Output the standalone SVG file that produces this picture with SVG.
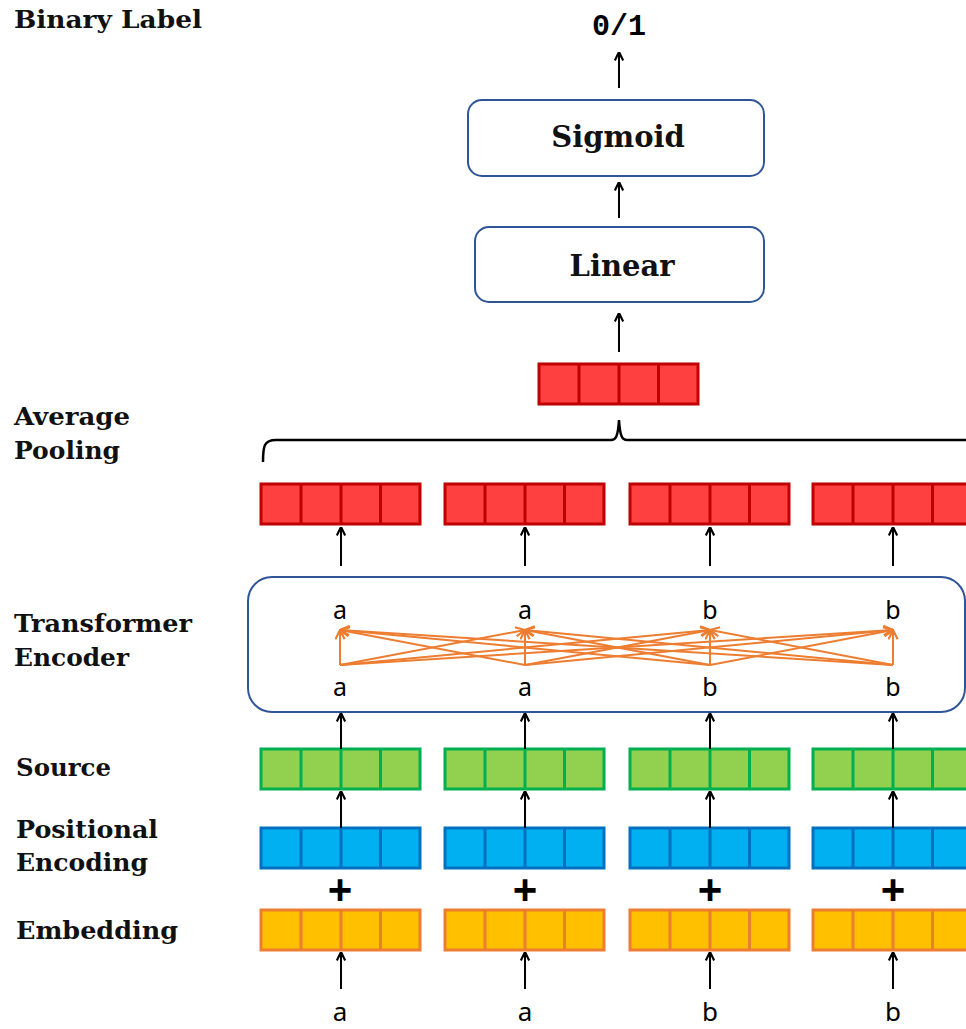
<svg xmlns="http://www.w3.org/2000/svg" xmlns:xlink="http://www.w3.org/1999/xlink" width="966" height="1029" viewBox="0 0 966 1029">
  <style>
    .lbl { font-family: "DejaVu Serif", "Liberation Serif", serif; font-weight: bold; font-size: 24px; fill: #111; }
    .box { fill: #fff; stroke: #2F5597; stroke-width: 2; }
    .boxtxt { font-family: "DejaVu Serif", "Liberation Serif", serif; font-weight: bold; font-size: 29px; fill: #111; text-anchor: middle; }
    .tok { font-family: "Noto Sans", "Open Sans", sans-serif; font-size: 25px; fill: #000; text-anchor: middle; }
    .in { font-family: "Noto Sans", "Open Sans", sans-serif; font-size: 26px; fill: #000; text-anchor: middle; }
    .plus { font-family: "Liberation Sans", sans-serif; font-weight: bold; font-size: 42px; fill: #000; text-anchor: middle; }
    .arr { stroke: #000; stroke-width: 2; fill: none; marker-end: url(#head); }
    .att { stroke: #ED7D31; stroke-width: 2; fill: none; marker-end: url(#ahead); }
    .red { fill: #FF4040; stroke: #C00000; }
    .green { fill: #92D050; stroke: #00B050; }
    .blue { fill: #00B0F0; stroke: #0070C0; }
    .orange { fill: #FFC000; stroke: #ED7D31; }
  </style>
  <defs>
    <marker id="head" viewBox="0 0 10 10" refX="9.5" refY="5" markerWidth="10" markerHeight="10" markerUnits="userSpaceOnUse" orient="auto">
      <path d="M1,0.8 L9.5,5 L1,9.2" fill="none" stroke="#000" stroke-width="2.2"/>
    </marker>
    <marker id="ahead" viewBox="0 0 10 10" refX="9.5" refY="5" markerWidth="11" markerHeight="11" markerUnits="userSpaceOnUse" orient="auto">
      <path d="M1,0.8 L9.5,5 L1,9.2" fill="none" stroke="#ED7D31" stroke-width="2"/>
    </marker>
    <!-- four-cell vector; fill and stroke come from the <use> -->
    <symbol id="bar" overflow="visible">
      <rect x="0" y="0" width="159" height="40" stroke-width="3"/>
      <line x1="40" y1="0" x2="40" y2="40" stroke-width="3"/>
      <line x1="80" y1="0" x2="80" y2="40" stroke-width="3"/>
      <line x1="119.5" y1="0" x2="119.5" y2="40" stroke-width="3"/>
    </symbol>
  </defs>

  <rect width="966" height="1029" fill="#fff"/>

  <!-- row labels -->
  <g id="labels">
    <text class="lbl" x="14" y="28" textLength="188" lengthAdjust="spacingAndGlyphs">Binary Label</text>
    <text class="lbl" x="14" y="425" textLength="116" lengthAdjust="spacingAndGlyphs">Average</text>
    <text class="lbl" x="14" y="459" textLength="106" lengthAdjust="spacingAndGlyphs">Pooling</text>
    <text class="lbl" x="14" y="632" textLength="178" lengthAdjust="spacingAndGlyphs">Transformer</text>
    <text class="lbl" x="14" y="666" textLength="115" lengthAdjust="spacingAndGlyphs">Encoder</text>
    <text class="lbl" x="16" y="776" textLength="95" lengthAdjust="spacingAndGlyphs">Source</text>
    <text class="lbl" x="16" y="838" textLength="142" lengthAdjust="spacingAndGlyphs">Positional</text>
    <text class="lbl" x="16" y="871" textLength="132" lengthAdjust="spacingAndGlyphs">Encoding</text>
    <text class="lbl" x="16" y="939" textLength="162" lengthAdjust="spacingAndGlyphs">Embedding</text>
  </g>

  <g id="output">
    <text x="619" y="35" font-family="Liberation Mono, DejaVu Sans Mono, monospace" font-weight="bold" font-size="30" text-anchor="middle">0/1</text>
  </g>

  <g id="sigmoid">
    <rect class="box" x="468" y="100" width="296" height="76" rx="14"/>
    <text class="boxtxt" x="618" y="147">Sigmoid</text>
  </g>

  <g id="linear">
    <rect class="box" x="475" y="227" width="289" height="75" rx="14"/>
    <text class="boxtxt" x="622" y="276">Linear</text>
  </g>

  <g id="pooled">
    <use xlink:href="#bar" class="red" x="539" y="364"/>
  </g>

  <!-- averaging brace -->
  <g id="brace">
    <path d="M263,462 C263,446 264,440 276,440 L611,440 C616,440 618,436 619,420 C620,436 622,440 627,440 L970,440" fill="none" stroke="#000" stroke-width="2.5"/>
  </g>

  <g id="encoded">
    <use xlink:href="#bar" class="red" x="261" y="484"/>
    <use xlink:href="#bar" class="red" x="445" y="484"/>
    <use xlink:href="#bar" class="red" x="630" y="484"/>
    <use xlink:href="#bar" class="red" x="813" y="484"/>
  </g>

  <g id="encoder">
    <rect class="box" x="248" y="577" width="717" height="135" rx="24"/>
    <text class="tok" x="340" y="619">a</text>
    <text class="tok" x="525" y="619">a</text>
    <text class="tok" x="710" y="619">b</text>
    <text class="tok" x="893" y="619">b</text>
    <text class="tok" x="340" y="696">a</text>
    <text class="tok" x="525" y="696">a</text>
    <text class="tok" x="710" y="696">b</text>
    <text class="tok" x="893" y="696">b</text>
  </g>

  <g id="source">
    <use xlink:href="#bar" class="green" x="261" y="749"/>
    <use xlink:href="#bar" class="green" x="445" y="749"/>
    <use xlink:href="#bar" class="green" x="630" y="749"/>
    <use xlink:href="#bar" class="green" x="813" y="749"/>
  </g>

  <g id="positional">
    <use xlink:href="#bar" class="blue" x="261" y="828"/>
    <use xlink:href="#bar" class="blue" x="445" y="828"/>
    <use xlink:href="#bar" class="blue" x="630" y="828"/>
    <use xlink:href="#bar" class="blue" x="813" y="828"/>
  </g>

  <g id="plus">
    <text class="plus" x="340" y="904">+</text>
    <text class="plus" x="525" y="904">+</text>
    <text class="plus" x="710" y="904">+</text>
    <text class="plus" x="893" y="904">+</text>
  </g>

  <g id="embedding">
    <use xlink:href="#bar" class="orange" x="261" y="910"/>
    <use xlink:href="#bar" class="orange" x="445" y="910"/>
    <use xlink:href="#bar" class="orange" x="630" y="910"/>
    <use xlink:href="#bar" class="orange" x="813" y="910"/>
  </g>

  <g id="inputs">
    <text class="in" x="340" y="1021">a</text>
    <text class="in" x="525" y="1021">a</text>
    <text class="in" x="710" y="1021">b</text>
    <text class="in" x="893" y="1021">b</text>
  </g>

  <g id="connectors">
    <!-- head stack -->
    <line class="arr" x1="619" y1="88" x2="619" y2="52"/>
    <line class="arr" x1="619" y1="218" x2="619" y2="182"/>
    <line class="arr" x1="619" y1="352" x2="619" y2="313"/>
    <!-- encoder outputs -->
    <line class="arr" x1="341" y1="566" x2="341" y2="527"/>
    <line class="arr" x1="525" y1="566" x2="525" y2="527"/>
    <line class="arr" x1="710" y1="566" x2="710" y2="527"/>
    <line class="arr" x1="893" y1="566" x2="893" y2="527"/>
    <!-- source into encoder -->
    <line class="arr" x1="341" y1="749" x2="341" y2="713"/>
    <line class="arr" x1="525" y1="749" x2="525" y2="713"/>
    <line class="arr" x1="710" y1="749" x2="710" y2="713"/>
    <line class="arr" x1="893" y1="749" x2="893" y2="713"/>
    <!-- positional + embedding into source -->
    <line class="arr" x1="341" y1="828" x2="341" y2="791"/>
    <line class="arr" x1="525" y1="828" x2="525" y2="791"/>
    <line class="arr" x1="710" y1="828" x2="710" y2="791"/>
    <line class="arr" x1="893" y1="828" x2="893" y2="791"/>
    <!-- tokens into embedding -->
    <line class="arr" x1="341" y1="989" x2="341" y2="952"/>
    <line class="arr" x1="525" y1="989" x2="525" y2="952"/>
    <line class="arr" x1="710" y1="989" x2="710" y2="952"/>
    <line class="arr" x1="893" y1="989" x2="893" y2="952"/>

    <!-- self-attention: every lower token feeds every upper token -->
    <g id="attention">
      <line class="att" x1="340" y1="665" x2="340" y2="630"/>
      <line class="att" x1="340" y1="665" x2="525" y2="630"/>
      <line class="att" x1="340" y1="665" x2="710" y2="630"/>
      <line class="att" x1="340" y1="665" x2="893" y2="630"/>
      <line class="att" x1="525" y1="665" x2="340" y2="630"/>
      <line class="att" x1="525" y1="665" x2="525" y2="630"/>
      <line class="att" x1="525" y1="665" x2="710" y2="630"/>
      <line class="att" x1="525" y1="665" x2="893" y2="630"/>
      <line class="att" x1="710" y1="665" x2="340" y2="630"/>
      <line class="att" x1="710" y1="665" x2="525" y2="630"/>
      <line class="att" x1="710" y1="665" x2="710" y2="630"/>
      <line class="att" x1="710" y1="665" x2="893" y2="630"/>
      <line class="att" x1="893" y1="665" x2="340" y2="630"/>
      <line class="att" x1="893" y1="665" x2="525" y2="630"/>
      <line class="att" x1="893" y1="665" x2="710" y2="630"/>
      <line class="att" x1="893" y1="665" x2="893" y2="630"/>
    </g>
  </g>
</svg>
